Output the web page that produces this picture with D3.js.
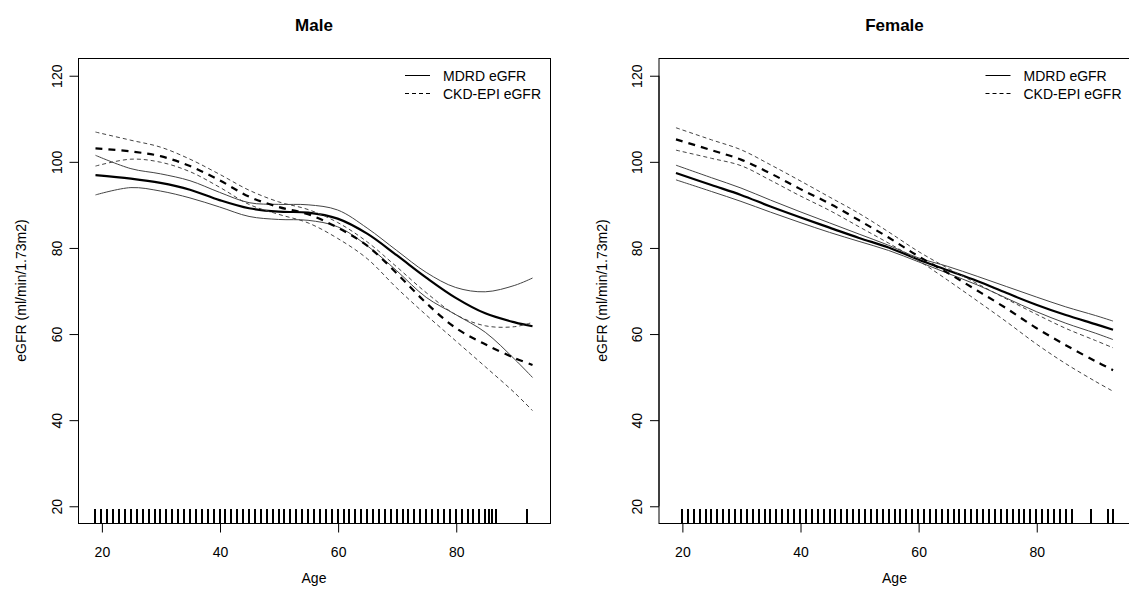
<!DOCTYPE html>
<html>
<head>
<meta charset="utf-8">
<script src="https://cdn.jsdelivr.net/npm/d3@7"></script>
<style>
  html, body { margin: 0; padding: 0; background: #fff; }
  svg { display: block; }
  text { font-family: "Liberation Sans", Arial, sans-serif; fill: #000; }
</style>
</head>
<body>
<svg id="chart" width="1129" height="595"></svg>
<script>
// ---- data ----
const ages = [19, 25, 30, 35, 40, 45, 50, 55, 60, 65, 70, 75, 80, 85, 90, 93];

const maleMdrdFit = [96.8, 96.0, 95.0, 93.4, 91.0, 89.1, 88.3, 88.1, 86.7, 83.2, 78.2, 73.0, 68.3, 64.7, 62.6, 61.7];
const maleMdrdHi  = [101.4, 98.3, 97.1, 95.5, 92.8, 90.4, 90.0, 89.9, 88.7, 84.5, 79.3, 74.2, 70.7, 69.7, 71.2, 72.9];
const maleMdrdLo  = [92.2, 93.9, 93.1, 91.5, 89.4, 87.2, 86.5, 86.3, 84.8, 80.4, 74.6, 68.4, 64.4, 60.3, 54.0, 49.8];
const maleCkdFit  = [103.0, 102.3, 101.2, 98.9, 95.6, 91.8, 89.4, 87.7, 84.6, 80.4, 74.0, 67.1, 61.3, 57.5, 54.3, 52.7];
const maleCkdHi   = [106.8, 104.9, 103.3, 100.5, 97.0, 93.3, 90.6, 88.8, 85.8, 81.3, 75.5, 69.5, 64.4, 61.8, 61.6, 62.6];
const maleCkdLo   = [98.9, 100.5, 99.8, 97.6, 94.0, 90.0, 87.7, 85.7, 82.1, 77.4, 70.6, 64.3, 58.3, 52.3, 46.2, 42.1];

const femaleMdrdFit = [97.3, 94.5, 92.2, 89.5, 87.0, 84.6, 82.2, 80.0, 77.2, 74.7, 72.2, 69.4, 66.7, 64.3, 62.2, 60.9];
const femaleMdrdHi  = [99.1, 96.2, 93.8, 91.0, 88.3, 85.7, 83.1, 80.5, 77.6, 75.6, 73.3, 70.9, 68.5, 66.2, 64.2, 62.9];
const femaleMdrdLo  = [95.7, 93.0, 90.7, 88.2, 85.8, 83.5, 81.4, 79.3, 76.7, 74.0, 71.3, 68.2, 65.1, 62.4, 60.1, 58.6];
const femaleCkdFit  = [105.1, 102.6, 100.4, 97.2, 93.6, 90.2, 86.3, 82.3, 78.0, 74.1, 70.0, 65.8, 61.3, 57.3, 53.6, 51.5];
const femaleCkdHi   = [107.8, 105.0, 102.7, 99.2, 95.5, 91.7, 87.9, 83.6, 79.1, 75.2, 71.6, 68.0, 64.5, 61.2, 58.4, 56.7];
const femaleCkdLo   = [102.6, 100.7, 99.0, 95.6, 92.0, 88.6, 84.8, 81.0, 77.0, 72.4, 67.6, 62.7, 57.6, 53.0, 48.9, 46.6];

const maleRug = [19, 20, 21, 22, 23, 24, 25, 26, 27, 28, 29, 30, 31, 32, 33, 34, 35, 36, 37, 38, 39,
  40, 41, 42, 43, 44, 45, 46, 47, 48, 49, 50, 51, 52, 53, 54, 55, 56, 57, 58, 59, 60, 61, 62, 63, 64,
  65, 66, 67, 68, 69, 70, 71, 72, 73, 74, 75, 76, 77, 78, 79, 80, 81, 82, 83, 84, 85, 85.7, 86.1, 86.8, 92];
const femaleRug = [20, 21, 22, 23, 24, 25, 26, 27, 28, 29, 30, 31, 32, 33, 34, 35, 36, 37, 38, 39,
  40, 41, 42, 43, 44, 45, 46, 47, 48, 49, 50, 51, 52, 53, 54, 55, 56, 57, 58, 59, 60, 61, 62, 63, 64,
  65, 66, 67, 68, 69, 70, 71, 72, 73, 74, 75, 76, 77, 78, 79, 80, 81, 82, 83, 84, 85, 86, 89.2, 92.1, 93];

const xTicks = [20, 40, 60, 80];
const yTicks = [20, 40, 60, 80, 100, 120];
const legendLabels = ["MDRD eGFR", "CKD-EPI eGFR"];
const titles = ["Male", "Female"];
const xLabel = "Age";
const yLabel = "eGFR (ml/min/1.73m2)";

// ---- drawing ----
const svg = d3.select("#chart");

const panels = [
  { title: titles[0], left: 78, series: [maleMdrdFit, maleMdrdHi, maleMdrdLo, maleCkdFit, maleCkdHi, maleCkdLo], rug: maleRug },
  { title: titles[1], left: 658.5, series: [femaleMdrdFit, femaleMdrdHi, femaleMdrdLo, femaleCkdFit, femaleCkdHi, femaleCkdLo], rug: femaleRug }
];

const plotW = 472, plotTop = 58, plotBottom = 523;
const xDom = [19 - 0.04 * 74, 93 + 0.04 * 74];
const yDom = [20 - 0.04 * 100, 120 + 0.04 * 100];

const styles = [
  { w: 2.2, c: "#000", dash: null },
  { w: 1, c: "#444", dash: null },
  { w: 1, c: "#444", dash: null },
  { w: 2.2, c: "#000", dash: "7,6" },
  { w: 1, c: "#444", dash: "4,3" },
  { w: 1, c: "#444", dash: "4,3" }
];

panels.forEach(p => {
  const x = d3.scaleLinear().domain(xDom).range([p.left, p.left + plotW]);
  const y = d3.scaleLinear().domain(yDom).range([plotBottom, plotTop]);
  const g = svg.append("g");

  // curves
  const line = d3.line()
    .x(d => x(d[0])).y(d => y(d[1]))
    .curve(d3.curveCatmullRom.alpha(0.5));
  p.series.forEach((vals, i) => {
    const s = styles[i];
    g.append("path")
      .datum(ages.map((a, k) => [a, vals[k]]))
      .attr("d", line)
      .attr("fill", "none")
      .attr("stroke", s.c)
      .attr("stroke-width", s.w)
      .attr("stroke-dasharray", s.dash);
  });

  // rug (snapped to whole pixels so the marks stay crisp)
  g.selectAll(".rug").data(p.rug).enter().append("line")
    .attr("x1", d => Math.round(x(d))).attr("x2", d => Math.round(x(d)))
    .attr("y1", plotBottom - 14).attr("y2", plotBottom)
    .attr("stroke", "#000").attr("stroke-width", 2);

  // box
  g.append("rect")
    .attr("x", p.left + 0.5).attr("y", plotTop + 0.5)
    .attr("width", plotW).attr("height", plotBottom - plotTop)
    .attr("fill", "none").attr("stroke", "#000").attr("stroke-width", 1);

  // x axis
  const xAxis = g.append("g").attr("transform", `translate(0.5,${plotBottom + 0.5})`)
    .call(d3.axisBottom(x).tickValues(xTicks).tickSize(9).tickPadding(0).tickFormat(d3.format("d")));
  xAxis.select(".domain").attr("d", `M${x(20)},0H${x(80)}`).attr("stroke", "#000");
  xAxis.selectAll(".tick line").attr("stroke", "#000");
  xAxis.selectAll(".tick text").attr("font-size", 14).attr("y", 0).attr("dy", null)
    .attr("transform", "translate(0,33.5)").style("font-family", "'Liberation Sans', Arial, sans-serif");

  // y axis
  const yAxis = g.append("g").attr("transform", `translate(${p.left + 0.5},0.5)`)
    .call(d3.axisLeft(y).tickValues(yTicks).tickSize(9).tickFormat(d3.format("d")));
  yAxis.select(".domain").attr("d", `M0,${y(20)}V${y(120)}`).attr("stroke", "#000");
  yAxis.selectAll(".tick line").attr("stroke", "#000");
  yAxis.selectAll(".tick text").remove();
  yAxis.selectAll(".tick").append("text")
    .attr("transform", "translate(-17,0) rotate(-90)")
    .attr("text-anchor", "middle").attr("font-size", 14)
    .style("font-family", "'Liberation Sans', Arial, sans-serif")
    .attr("fill", "#000")
    .text(d => d);

  // titles and labels
  g.append("text").attr("x", p.left + plotW / 2).attr("y", 31)
    .attr("text-anchor", "middle").attr("font-size", 17).attr("font-weight", "bold").text(p.title);
  g.append("text").attr("x", p.left + plotW / 2).attr("y", 583)
    .attr("text-anchor", "middle").attr("font-size", 14).text(xLabel);
  g.append("text").attr("transform", `translate(${p.left - 52},${(plotTop + plotBottom) / 2}) rotate(-90)`)
    .attr("text-anchor", "middle").attr("font-size", 14).text(yLabel);

  // legend
  const lx = p.left + 327;
  legendLabels.forEach((lab, i) => {
    const ly = 75.5 + i * 18;
    g.append("line").attr("x1", lx).attr("x2", lx + 25).attr("y1", ly).attr("y2", ly)
      .attr("stroke", "#000").attr("stroke-width", 1)
      .attr("stroke-dasharray", i === 1 ? "4,3" : null);
    g.append("text").attr("x", lx + 38).attr("y", ly + 5)
      .attr("font-size", 14).text(lab);
  });
});
</script>
</body>
</html>
